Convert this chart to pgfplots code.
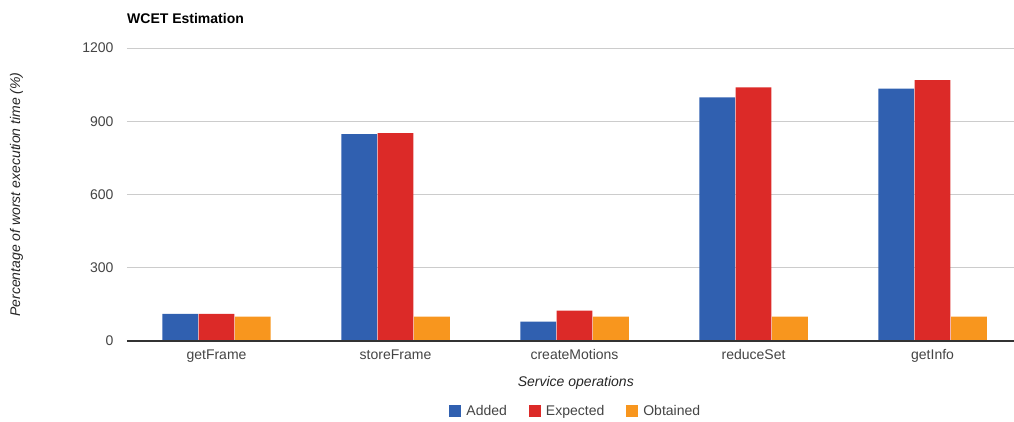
\documentclass[border=0pt]{standalone}
\usepackage{pgfplots}
\pgfplotsset{compat=1.18}
\usepackage{fontspec}
\setmainfont{Liberation Sans}
\definecolor{cA}{HTML}{3060B0}
\definecolor{cE}{HTML}{DC2A28}
\definecolor{cO}{HTML}{F8961E}
\definecolor{tk}{HTML}{444444}
\definecolor{gr}{HTML}{CCCCCC}
\begin{document}
\begin{tikzpicture}
\path[use as bounding box] (-127pt,-80pt) rectangle (887pt,341pt);
\begin{axis}[
  scale only axis, width=887pt, height=293pt,
  xmin=-0.5, xmax=4.455, ymin=0, ymax=1200,
  ytick={0,300,600,900,1200},
  xtick={0,1,2,3,4},
  xticklabels={getFrame,storeFrame,createMotions,reduceSet,getInfo},
  axis line style={draw=none},
  major tick length=0pt,
  ymajorgrids, grid style={gr, line width=0.8pt},
  ticklabel style={font=\fontsize{14}{16}\selectfont, text=tk},
  /pgf/number format/assume math mode=true,
  /pgf/number format/1000 sep={},
  yticklabel style={xshift=-10pt},
  xticklabel style={yshift=-5pt},
  ybar, bar width=0.2,
  xlabel={\itshape Service operations},
  ylabel={\itshape Percentage of worst execution time (\%)},
  label style={font=\fontsize{14}{16}\selectfont, text=black!85},
  xlabel style={at={(0.506,-0.143)}, anchor=center},
  ylabel style={at={(-0.1245,0.5)}, anchor=center, rotate=0},
  legend columns=-1,
  legend style={draw=none, at={(0.506,-0.239)}, anchor=center, font=\fontsize{14}{16}\selectfont, text=tk,
    /tikz/every odd column/.append style={column sep=3pt},
    /tikz/every even column/.append style={column sep=20pt}},
  legend image code/.code={\fill[#1] (0pt,-6pt) rectangle (12pt,6pt);},
]
\addplot[fill=cA, draw=none, bar shift=-0.203] coordinates {(0,111) (1,847) (2,79) (3,998) (4,1034)};
\addplot[fill=cE, draw=none, bar shift=0] coordinates {(0,111) (1,851) (2,124) (3,1039) (4,1068)};
\addplot[fill=cO, draw=none, bar shift=0.203] coordinates {(0,100) (1,100) (2,100) (3,100) (4,100)};
\draw[black!80, line width=1.2pt] (axis cs:-0.5,0) -- (axis cs:4.455,0);
\legend{Added,Expected,Obtained}
\end{axis}
\node[anchor=west, inner sep=0pt, font=\fontsize{14}{16}\selectfont\bfseries] at (0pt,323pt) {WCET Estimation};
\end{tikzpicture}
\end{document}
